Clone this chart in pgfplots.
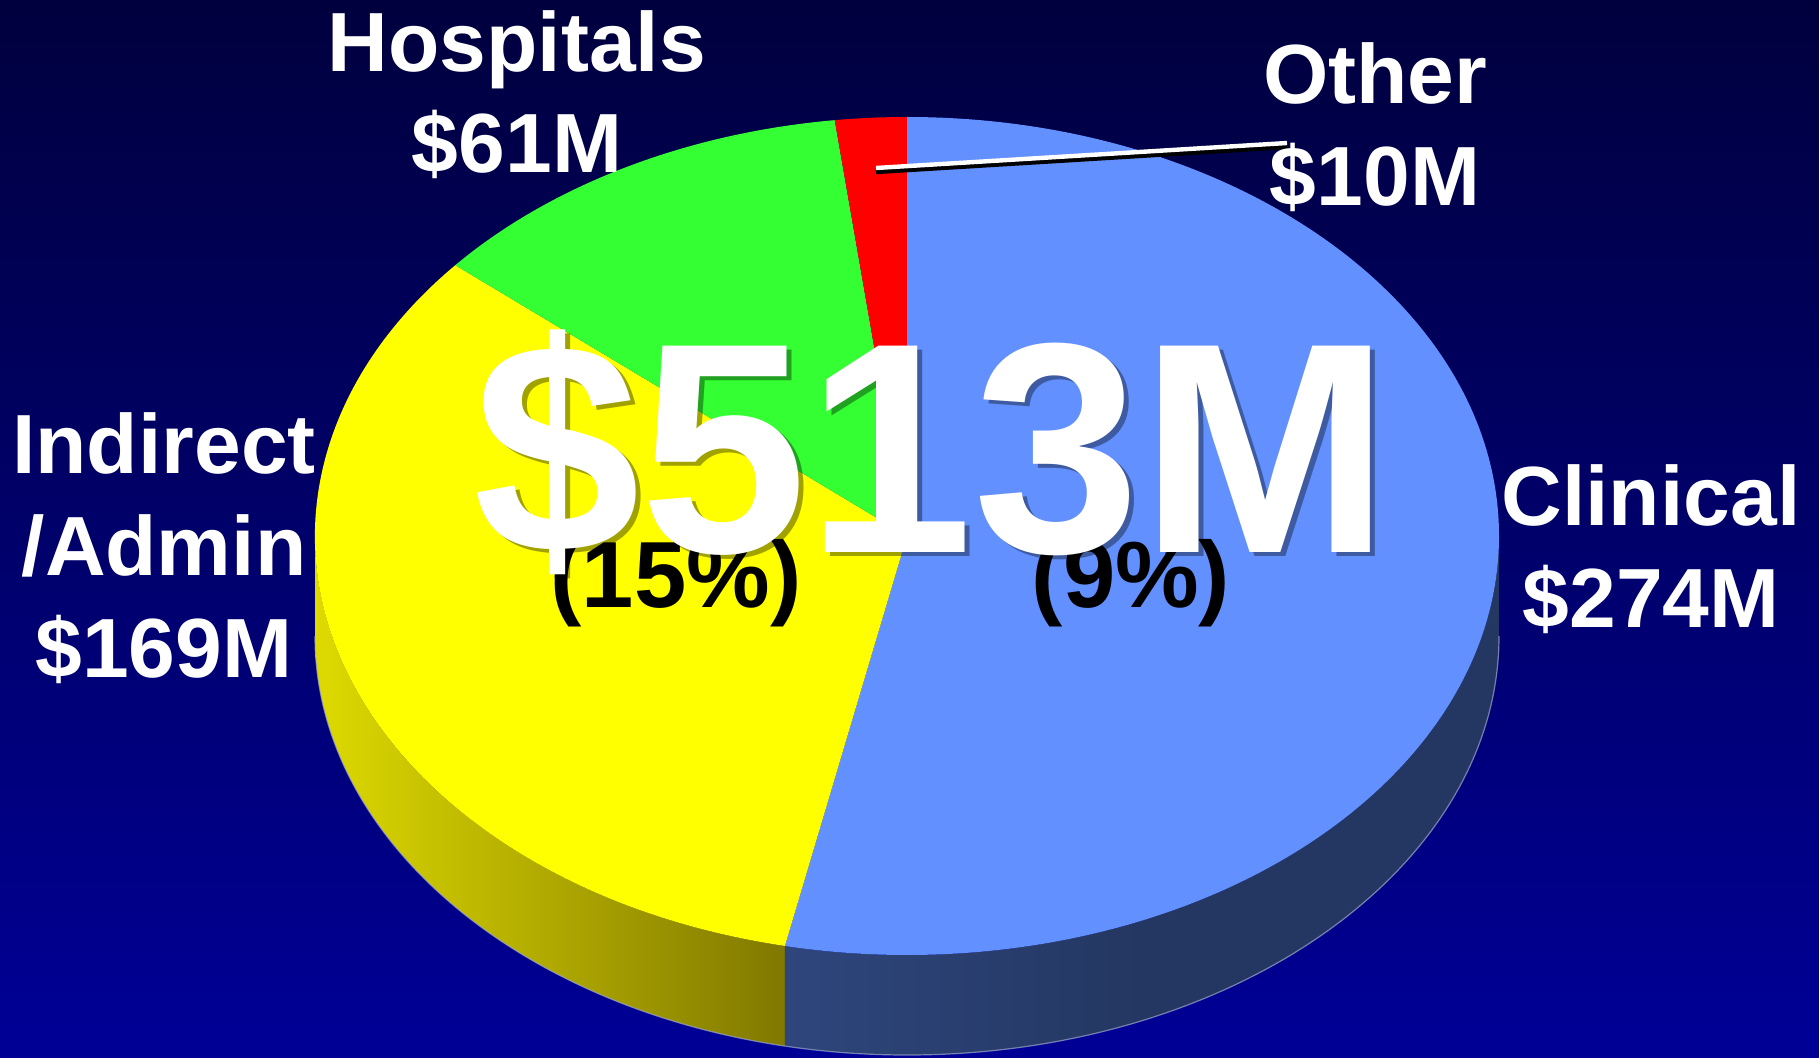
\documentclass[border=0pt]{standalone}
\usepackage{pgfplots}
\pgfplotsset{compat=1.18}
\usepackage{fontspec}
\setmainfont{Liberation Sans}
\definecolor{bgtop}{RGB}{0,0,62}
\definecolor{bgbot}{RGB}{0,0,150}
\definecolor{clin}{RGB}{99,144,255}
\definecolor{indir}{RGB}{255,255,0}
\definecolor{hosp}{RGB}{51,255,51}
\definecolor{oth}{RGB}{255,0,0}
\definecolor{ysideL}{RGB}{222,218,0}
\definecolor{ysideR}{RGB}{128,120,0}
\definecolor{bsideL}{RGB}{46,70,124}
\definecolor{bsideR}{RGB}{36,55,98}
\definecolor{rim}{RGB}{160,170,200}

% data (million $)
\def\vClin{274}
\def\vInd{169}
\def\vHosp{61}
\def\vOth{10}

\pgfmathsetmacro\tot{\vClin+\vInd+\vHosp+\vOth}
\pgfmathsetmacro\aA{90}
\pgfmathsetmacro\aB{\aA-360*(\vClin/\tot)}
\pgfmathsetmacro\aC{\aB-360*(\vInd/\tot)}
\pgfmathsetmacro\aD{\aC-360*(\vHosp/\tot)}
\pgfmathsetmacro\aE{\aD-360*(\vOth/\tot)}
\pgfmathsetmacro\aBp{\aB+360}
% pie geometry (axis units = pixels)
\def\cx{907}\def\cy{521}\def\rx{592}\def\ry{419}
\pgfmathsetmacro\xA{\cx+\rx*cos(\aA)}\pgfmathsetmacro\yA{\cy+\ry*sin(\aA)}
\pgfmathsetmacro\xB{\cx+\rx*cos(\aB)}\pgfmathsetmacro\yB{\cy+\ry*sin(\aB)}
\pgfmathsetmacro\xC{\cx+\rx*cos(\aC)}\pgfmathsetmacro\yC{\cy+\ry*sin(\aC)}
\pgfmathsetmacro\xD{\cx+\rx*cos(\aD)}\pgfmathsetmacro\yD{\cy+\ry*sin(\aD)}

\begin{document}
\begin{tikzpicture}[
  lab/.style={anchor=base, text=white, inner sep=0pt,
     font=\fontsize{42}{50}\selectfont\bfseries},
  pct/.style={anchor=base, text=black, inner sep=0pt,
     font=\fontsize{47}{56}\selectfont\bfseries},
  big/.style={anchor=base, inner sep=0pt,
     font=\fontsize{150}{170}\selectfont\bfseries},
]
\begin{axis}[
  x=0.5pt, y=0.5pt,
  xmin=0, xmax=1819, ymin=0, ymax=1057,
  hide axis, clip=true,
]
% background
\shade[top color=bgtop, bottom color=bgbot] (axis cs:0,0) rectangle (axis cs:1819,1057);

% side surfaces
\shade[left color=ysideL, right color=ysideR]
  (axis cs:315,\cy) arc[start angle=180, end angle=\aBp, x radius=296pt, y radius=209.5pt]
  -- ++(0pt,-50pt) arc[start angle=\aBp, end angle=180, x radius=296pt, y radius=209.5pt] -- cycle;
\shade[left color=bsideL, right color=bsideR, middle color=bsideR]
  (axis cs:\xB,\yB) arc[start angle=\aBp, end angle=360, x radius=296pt, y radius=209.5pt]
  -- ++(0pt,-50pt) arc[start angle=360, end angle=\aBp, x radius=296pt, y radius=209.5pt] -- cycle;
\draw[rim, line width=0.6pt, opacity=0.7]
  (axis cs:315,421) arc[start angle=180, end angle=360, x radius=296pt, y radius=209.5pt];

% top slices
\fill[clin] (axis cs:\cx,\cy) -- (axis cs:\xA,\yA)
  arc[start angle=\aA, end angle=\aB, x radius=296pt, y radius=209.5pt] -- cycle;
\fill[indir] (axis cs:\cx,\cy) -- (axis cs:\xB,\yB)
  arc[start angle=\aB, end angle=\aC, x radius=296pt, y radius=209.5pt] -- cycle;
\fill[hosp] (axis cs:\cx,\cy) -- (axis cs:\xC,\yC)
  arc[start angle=\aC, end angle=\aD, x radius=296pt, y radius=209.5pt] -- cycle;
\fill[oth] (axis cs:\cx,\cy) -- (axis cs:\xD,\yD)
  arc[start angle=\aD, end angle=\aE, x radius=296pt, y radius=209.5pt] -- cycle;

% leader line for Other
\draw[black, line width=2.2pt] (axis cs:876,885) -- (axis cs:1287,910);
\draw[white, line width=2.2pt] (axis cs:876,889) -- (axis cs:1287,914);

% percentage labels (partly hidden)
\node[pct] at (axis cs:676,450) {(15\%)};
\node[pct] at (axis cs:1131,450) {(9\%)};

% big total
\node[big, text=black, text opacity=0.37] at (axis cs:937,501) {\$513M};
\node[big, text=white] at (axis cs:932,505) {\$513M};

% category labels
\node[lab] at (axis cs:517,985) {Hospitals};
\node[lab] at (axis cs:517,884) {\$61M};
\node[lab] at (axis cs:1375,953) {Other};
\node[lab] at (axis cs:1375,851) {\$10M};
\node[lab] at (axis cs:164,584) {Indirect};
\node[lab] at (axis cs:164,482) {/Admin};
\node[lab] at (axis cs:164,380) {\$169M};
\node[lab] at (axis cs:1651,532) {Clinical};
\node[lab] at (axis cs:1651,430) {\$274M};
\end{axis}
\end{tikzpicture}
\end{document}
